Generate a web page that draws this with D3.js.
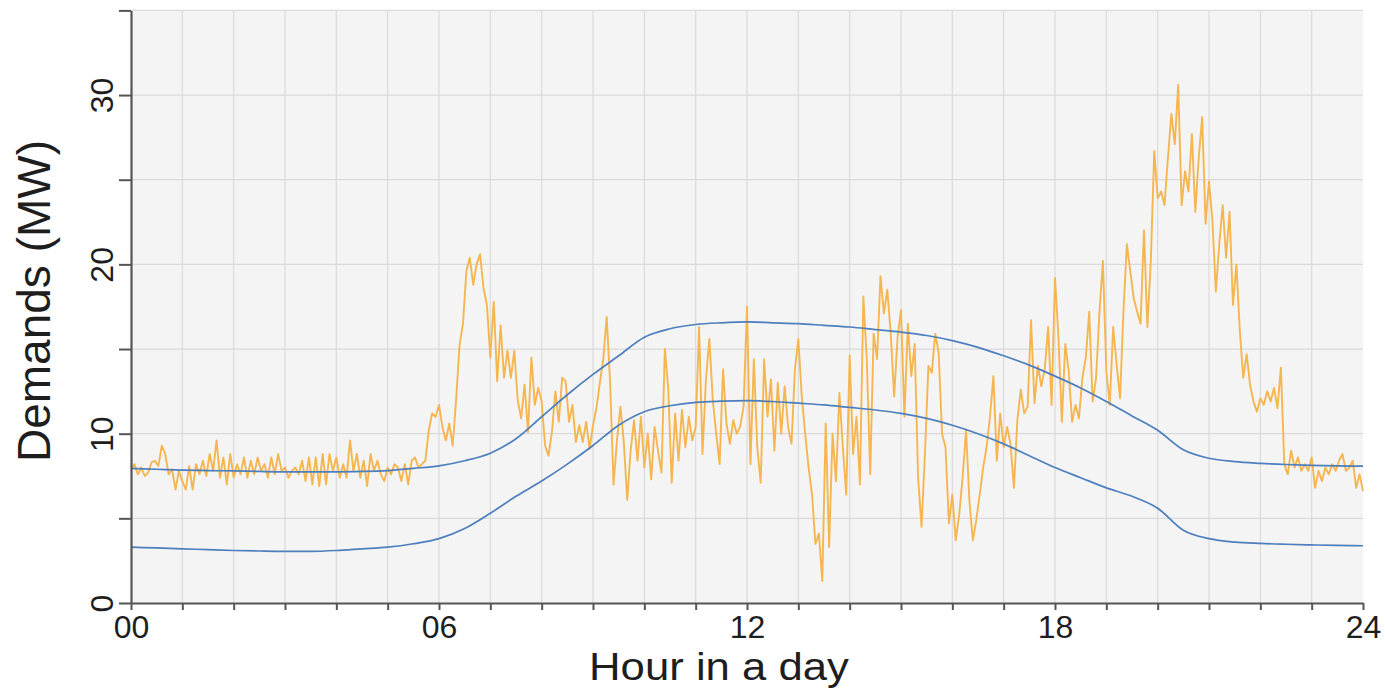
<!DOCTYPE html>
<html>
<head>
<meta charset="utf-8">
<script src="https://cdn.jsdelivr.net/npm/d3@7"></script>
<style>
  body { margin: 0; background: #fff; }
  text { font-family: "Liberation Sans", Arial, sans-serif; fill: #1e1e1e; }
</style>
</head>
<body>
<script>
var width = 1385, height = 693;

// demand readings, one every 4 minutes (15 per hour)
var SAMPLES_PER_HOUR = 15;
var demand0000 = [
  7.9, 8.2, 7.6, 8.0, 7.5, 7.7, 8.3, 8.4, 8.1, 9.3,
  8.8, 7.6, 7.9, 6.7, 7.8, 7.2, 6.7, 8.1, 6.7, 8.2,
  7.6, 8.4, 7.5, 8.8, 7.8, 9.6, 7.4, 8.6, 7.0, 8.8,
  7.4, 8.2, 7.6, 8.6, 7.4, 8.4, 7.6, 8.6, 7.8, 8.2,
  7.4, 8.6, 7.6, 8.8, 7.8, 8.0, 7.4, 7.8, 8.0, 7.6,
  8.4, 7.2, 8.6, 7.0, 8.6, 6.9, 8.8, 7.0, 8.8, 7.8,
  8.6, 7.4, 8.2, 7.4, 9.6, 7.8, 8.8, 7.4, 8.4, 6.9,
  8.8, 7.8, 8.4, 7.6, 7.2, 8.0, 7.6, 8.2, 8.0, 7.2,
  8.2, 7.0, 8.4, 8.6, 8.0, 8.2, 8.4, 10.2
];
var demand0552 = [
  11.2, 11.0, 11.7, 10.4, 9.6, 10.6, 9.3, 12.0, 15.2, 16.5,
  19.6, 20.4, 18.8, 20.0, 20.6, 18.6, 17.6, 14.5, 17.8, 13.1,
  16.4, 13.3, 14.9, 13.3, 14.9, 12.0, 10.9, 12.9, 10.1, 14.5,
  11.7, 12.7, 11.9, 9.3, 8.7, 10.1, 12.5, 10.7, 13.3, 13.1,
  10.7, 11.7, 9.5, 10.5, 9.5, 10.7, 9.1, 10.5
];
var demand0904 = [
  11.5, 13.0, 14.4, 16.9, 13.0, 7.0, 9.6, 11.6, 9.5, 6.1,
  9.0, 10.8, 8.4, 11.0, 8.0, 10.0, 7.3, 10.4, 9.0, 7.7,
  15.0, 12.6, 7.1, 11.2, 8.4, 11.4, 9.2, 11.0, 9.6, 10.4,
  16.3, 8.8, 13.2, 15.6, 12.0, 10.0, 8.2, 13.8, 10.6, 9.4,
  10.8, 10.0, 10.4, 11.6, 17.5, 8.2, 14.4, 9.2, 7.1, 14.4,
  11.0, 13.2, 9.0, 13.0, 10.0, 12.8, 10.4, 9.4, 13.8, 15.6
];
var demand1304 = [
  12.2, 10.0, 8.0, 6.4, 3.5, 4.1, 1.3, 10.6, 3.3, 10.0,
  7.2, 12.4, 9.2, 6.4, 14.6, 8.8, 11.0, 7.0, 18.1, 14.4,
  7.6, 15.9, 14.4, 19.3, 17.1, 18.5, 15.9, 12.2, 15.7, 17.3,
  11.0, 16.5, 13.4, 15.3, 7.4, 4.5, 8.8, 14.0, 13.6, 15.9,
  14.8, 10.0, 9.2, 4.7, 6.4, 3.7, 5.2, 7.4, 10.2, 6.0,
  3.7, 4.9, 6.4, 8.0, 9.2, 11.0, 13.4, 8.4, 11.2, 9.2
];
var demand1704 = [
  10.4, 9.4, 6.8, 10.8, 12.6, 11.2, 11.6, 16.7, 11.8, 14.0,
  12.8, 13.8, 16.3, 11.7, 19.2, 15.7, 10.7, 15.3, 13.7, 10.7,
  11.7, 10.9, 13.3, 14.5, 17.2, 11.9, 13.3, 17.2, 20.2, 13.7,
  11.7, 16.3, 14.1, 12.1, 17.2, 21.2, 19.6, 18.0, 17.2, 16.5,
  22.0, 16.3, 20.2, 26.7, 23.9, 24.3, 23.5, 26.3, 28.9, 27.1,
  30.6, 23.5, 25.5, 24.3, 27.7, 23.1, 26.3, 28.7, 22.4, 24.9
];
var demand2104 = [
  22.6, 18.4, 21.2, 23.5, 20.4, 23.1, 17.6, 20.0, 16.1, 13.3,
  14.7, 12.9, 11.9, 11.3, 12.1, 11.7, 12.5, 11.9, 12.7, 11.5,
  13.9, 8.2, 7.6, 9.0, 8.0, 8.6, 7.8, 8.2, 7.8, 8.6,
  6.8, 7.8, 7.2, 8.0, 7.6, 8.2, 7.8, 8.4, 8.8, 7.8,
  8.0, 8.4, 6.8, 7.6, 6.6
];

// smooth upper / lower curves, every half hour
var bandHours = d3.range(0, 24.5, 0.5);
var upperBand = [
  7.95, 7.9, 7.85, 7.82, 7.8, 7.77, 7.75, 7.75, 7.75, 7.77,
  7.82, 7.95, 8.1, 8.4, 8.85, 9.7, 11.0, 12.3, 13.5, 14.6,
  15.7, 16.2, 16.45, 16.55, 16.6, 16.55, 16.5, 16.4, 16.3, 16.15,
  16.0, 15.8, 15.5, 15.1, 14.6, 14.05, 13.4, 12.7, 11.9, 11.05,
  10.2, 9.05, 8.55, 8.35, 8.25, 8.18, 8.13, 8.1, 8.08
];
var lowerBand = [
  3.3, 3.25, 3.2, 3.15, 3.1, 3.07, 3.05, 3.05, 3.1, 3.2,
  3.3, 3.5, 3.8, 4.4, 5.3, 6.3, 7.2, 8.2, 9.3, 10.5,
  11.3, 11.65, 11.85, 11.92, 11.95, 11.9, 11.8, 11.7, 11.55, 11.4,
  11.2, 10.9, 10.5, 10.0, 9.4, 8.7, 8.0, 7.4, 6.8, 6.3,
  5.6, 4.3, 3.8, 3.6, 3.52, 3.47, 3.43, 3.4, 3.38
];

var hourTicks = d3.range(0, 25, 1),
    hourLabels = [0, 6, 12, 18, 24],
    mwTicks = d3.range(0, 36, 5),
    mwLabels = [0, 10, 20, 30];

var demand = [].concat(demand0000, demand0552, demand0904, demand1304, demand1704, demand2104)
  .map(function(v, i) { return [i / SAMPLES_PER_HOUR, v]; });

var svg = d3.select("body").append("svg")
    .attr("width", width)
    .attr("height", height);

var x = d3.scaleLinear().domain([0, 24]).range([131, 1363]);
var y = d3.scaleLinear().domain([0, 35]).range([603, 10.4]);

// plot background
svg.append("rect")
    .attr("x", x(0)).attr("y", y(35))
    .attr("width", x(24) - x(0)).attr("height", y(0) - y(35))
    .attr("fill", "#f4f4f4");

// grid
var grid = svg.append("g").attr("stroke", "#dadada").attr("stroke-width", 1.2);
grid.selectAll(".vx").data(hourTicks.slice(1, -1)).enter().append("line")
    .attr("x1", d => x(d)).attr("x2", d => x(d))
    .attr("y1", y(0)).attr("y2", y(35));
grid.selectAll(".hy").data(mwTicks.slice(1)).enter().append("line")
    .attr("x1", x(0)).attr("x2", x(24))
    .attr("y1", d => y(d)).attr("y2", d => y(d));

// lines
var line = d3.line().x(d => x(d[0])).y(d => y(d[1]));
var smooth = d3.line().curve(d3.curveMonotoneX).x(d => x(d[0])).y(d => y(d[1]));

svg.append("path")
    .datum(demand)
    .attr("fill", "none")
    .attr("stroke", "#f5b650")
    .attr("stroke-width", 1.9)
    .attr("stroke-linejoin", "round")
    .attr("d", line);

[upperBand, lowerBand].forEach(function(band) {
  svg.append("path")
      .datum(bandHours.map((h, i) => [h, band[i]]))
      .attr("fill", "none")
      .attr("stroke", "#4d7ebd")
      .attr("stroke-width", 1.7)
      .attr("d", smooth);
});

// axes
var xAxis = svg.append("g")
    .attr("transform", "translate(0," + y(0) + ")")
    .call(d3.axisBottom(x).tickValues(hourTicks).tickSize(7).tickSizeOuter(0).tickPadding(5)
      .tickFormat(d => hourLabels.indexOf(d) >= 0 ? d3.format("02d")(d) : ""));

var yAxis = svg.append("g")
    .attr("transform", "translate(" + x(0) + ",0)")
    .call(d3.axisLeft(y).tickValues(mwTicks).tickSize(12).tickSizeOuter(0)
      .tickFormat(d => mwLabels.indexOf(d) >= 0 ? d : ""));

[xAxis, yAxis].forEach(function(g) {
  g.select(".domain").attr("stroke", "#555").attr("stroke-width", 2.2);
  g.selectAll(".tick line").attr("stroke", "#555").attr("stroke-width", 2);
  g.selectAll("text").attr("font-size", 32).attr("fill", "#1e1e1e")
      .attr("font-family", "'Liberation Sans', Arial, sans-serif");
});

// y labels are turned on their side
yAxis.selectAll(".tick text")
    .attr("x", 0).attr("dy", 0)
    .attr("text-anchor", "middle")
    .attr("transform", "translate(-18,0) rotate(-90)");

// titles (the original is a bit stretched sideways)
svg.append("text")
    .attr("transform", "translate(50,301) rotate(-90)")
    .attr("text-anchor", "middle")
    .attr("font-size", 46)
    .text("Demands (MW)");

svg.append("text")
    .attr("transform", "translate(719,680) scale(1.15,1)")
    .attr("text-anchor", "middle")
    .attr("font-size", 38)
    .text("Hour in a day");
</script>
</body>
</html>
